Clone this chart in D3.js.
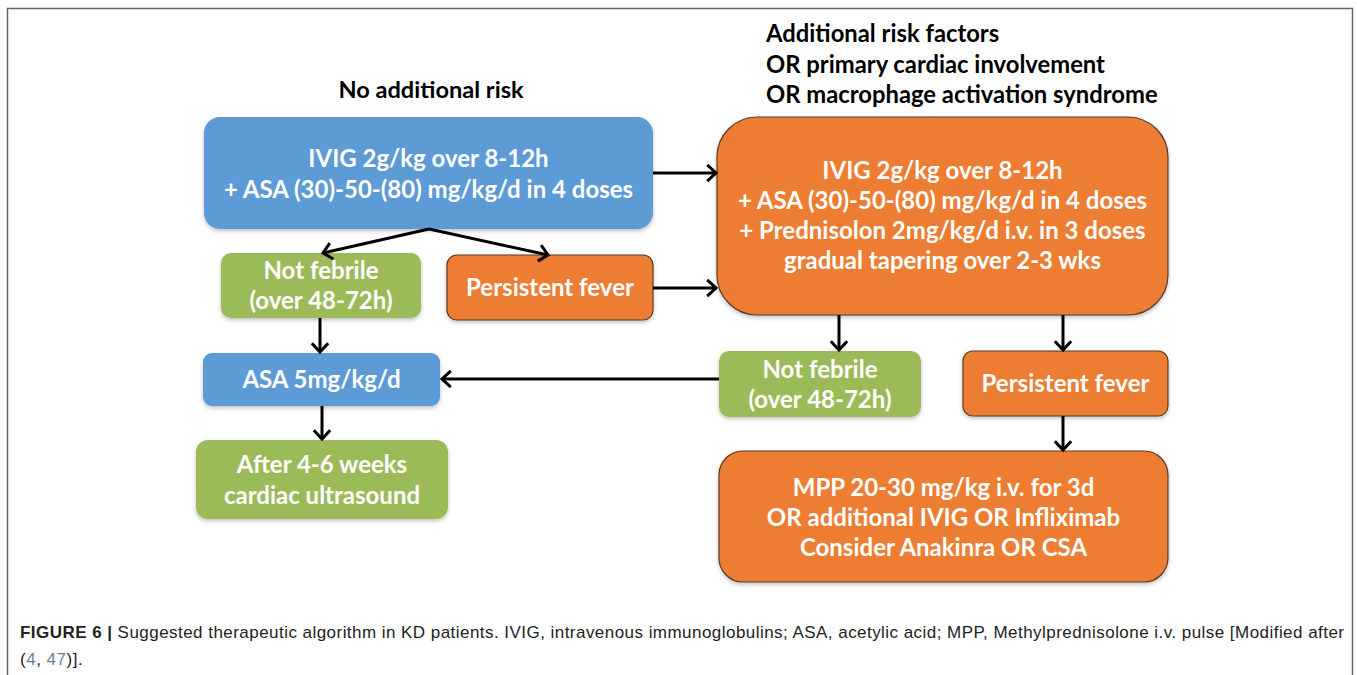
<!DOCTYPE html>
<html>
<head>
<meta charset="utf-8">
<script src="https://cdn.jsdelivr.net/npm/d3@7"></script>
<style>
  body { margin: 0; background: #fff; }
  svg { display: block; }
</style>
</head>
<body>
<div id="chart"></div>
<script>
// flowchart content
var nodeIds = ["ivig1", "notFeb1", "fever1", "ivig2", "asa5", "after", "notFeb2", "fever2", "mpp"];
var nodeKinds = ["blue", "green", "orange", "orange", "blue", "green", "green", "orange", "orange"];
var nodeLines = [
    ["IVIG 2g/kg over 8-12h", "+ ASA (30)-50-(80) mg/kg/d in 4 doses"],
    ["Not febrile", "(over 48-72h)"],
    ["Persistent fever"],
    ["IVIG 2g/kg over 8-12h", "+ ASA (30)-50-(80) mg/kg/d in 4 doses", "+ Prednisolon 2mg/kg/d i.v. in 3 doses", "gradual tapering over 2-3 wks"],
    ["ASA 5mg/kg/d"],
    ["After 4-6 weeks", "cardiac ultrasound"],
    ["Not febrile", "(over 48-72h)"],
    ["Persistent fever"],
    ["MPP 20-30 mg/kg i.v. for 3d", "OR additional IVIG OR Infliximab", "Consider Anakinra OR CSA"]
];
var edgeFrom = ["ivig1", "ivig1", "ivig1", "fever1", "notFeb1", "asa5", "ivig2", "ivig2", "fever2", "notFeb2"];
var edgeTo   = ["notFeb1", "fever1", "ivig2", "ivig2", "asa5", "after", "notFeb2", "fever2", "mpp", "asa5"];
var leftTitle = ["No additional risk"];
var rightTitle = ["Additional risk factors", "OR primary cardiac involvement", "OR macrophage activation syndrome"];
var captionBold = "FIGURE 6 |";
var captionLine1 = " Suggested therapeutic algorithm in KD patients. IVIG, intravenous immunoglobulins; ASA, acetylic acid; MPP, Methylprednisolone i.v. pulse [Modified after";
var captionRefs = ["4", "47"];

function draw() {
    var w = 1357;
    var h = 675;

    var svg = d3.select("#chart")
        .append("svg")
        .attr("width", w)
        .attr("height", h);

    var defs = svg.append("defs");
    defs.append("filter")
        .attr("id", "shadow")
        .attr("x", "-10%").attr("y", "-10%")
        .attr("width", "120%").attr("height", "130%")
        .append("feDropShadow")
        .attr("dx", 0).attr("dy", 2)
        .attr("stdDeviation", 2)
        .attr("flood-color", "#000")
        .attr("flood-opacity", 0.25);

    // frame around the figure
    svg.append("path")
        .attr("d", "M7.5,680 L7.5,8.5 L1352.5,8.5 L1352.5,680")
        .attr("fill", "none")
        .attr("stroke", "#666")
        .attr("stroke-width", 1.5);

    var fillColor = d3.scaleOrdinal()
        .domain(["blue", "green", "orange"])
        .range(["#5b9bd5", "#9bbb59", "#ed7d31"]);
    var strokeColor = d3.scaleOrdinal()
        .domain(["blue", "green", "orange"])
        .range(["none", "none", "#5a3a22"]);

    // box geometry (layout only)
    var layout = {
        ivig1:   {x: 204, y: 117, w: 449, h: 112, r: 16, base: 167, gap: 31},
        notFeb1: {x: 221, y: 253, w: 200, h: 65, r: 10, base: 279, gap: 30},
        fever1:  {x: 447, y: 255, w: 206, h: 65, r: 10, base: 296, gap: 30},
        ivig2:   {x: 717, y: 117, w: 451, h: 198, r: 40, base: 179, gap: 30},
        asa5:    {x: 203, y: 353, w: 237, h: 53, r: 9, base: 388, gap: 30},
        after:   {x: 196, y: 440, w: 252, h: 79, r: 12, base: 473, gap: 31},
        notFeb2: {x: 719, y: 351, w: 202, h: 66, r: 10, base: 378, gap: 30},
        fever2:  {x: 963, y: 351, w: 205, h: 65, r: 10, base: 392, gap: 30},
        mpp:     {x: 719, y: 451, w: 449, h: 131, r: 24, base: 496, gap: 30}
    };

    var nodes = nodeIds.map(function(id, i) {
        return {id: id, kind: nodeKinds[i], lines: nodeLines[i], box: layout[id]};
    });

    var g = svg.selectAll("g.node")
        .data(nodes)
        .enter()
        .append("g")
        .attr("class", "node");

    g.append("rect")
        .attr("x", function(d) { return d.box.x; })
        .attr("y", function(d) { return d.box.y; })
        .attr("width", function(d) { return d.box.w; })
        .attr("height", function(d) { return d.box.h; })
        .attr("rx", function(d) { return d.box.r; })
        .attr("fill", function(d) { return fillColor(d.kind); })
        .attr("stroke", function(d) { return strokeColor(d.kind); })
        .attr("stroke-width", 1.2)
        .attr("filter", "url(#shadow)");

    g.each(function(d) {
        var sel = d3.select(this);
        d.lines.forEach(function(t, k) {
            sel.append("text")
                .attr("x", d.box.x + d.box.w / 2)
                .attr("y", d.box.base + k * d.box.gap)
                .attr("text-anchor", "middle")
                .attr("font-family", "Lato, 'Open Sans', sans-serif")
                .attr("font-weight", "bold")
                .attr("font-size", "24px")
                .attr("fill", "#fff")
                .text(t);
        });
    });

    // arrow anchor points (layout only)
    var anchors = {
        "ivig1>notFeb1": [[429, 229], [323, 253]],
        "ivig1>fever1":  [[429, 229], [548, 255]],
        "ivig1>ivig2":   [[653, 173], [716, 173]],
        "fever1>ivig2":  [[653, 288], [716, 288]],
        "notFeb1>asa5":  [[320, 318], [320, 352]],
        "asa5>after":    [[322, 406], [322, 439]],
        "ivig2>notFeb2": [[839, 315], [839, 350]],
        "ivig2>fever2":  [[1063, 315], [1063, 350]],
        "fever2>mpp":    [[1063, 416], [1063, 450]],
        "notFeb2>asa5":  [[719, 379], [442, 379]]
    };

    var edges = edgeFrom.map(function(f, i) {
        return anchors[f + ">" + edgeTo[i]];
    });

    var line = d3.line();
    var arrows = svg.selectAll("g.arrow")
        .data(edges)
        .enter()
        .append("g")
        .attr("class", "arrow");

    arrows.append("path")
        .attr("d", function(d) { return line(d); })
        .attr("stroke", "#000")
        .attr("stroke-width", 3)
        .attr("fill", "none");

    // open chevron heads
    arrows.append("path")
        .attr("d", function(d) {
            var p0 = d[0], p1 = d[1];
            var a = Math.atan2(p1[1] - p0[1], p1[0] - p0[0]);
            var len = 12, spread = Math.PI / 4.2;
            var l = [p1[0] - len * Math.cos(a - spread), p1[1] - len * Math.sin(a - spread)];
            var r = [p1[0] - len * Math.cos(a + spread), p1[1] - len * Math.sin(a + spread)];
            return line([l, p1, r]);
        })
        .attr("stroke", "#000")
        .attr("stroke-width", 3)
        .attr("stroke-linejoin", "miter")
        .attr("fill", "none");

    // headings
    svg.selectAll("text.ltitle")
        .data(leftTitle)
        .enter()
        .append("text")
        .attr("class", "ltitle")
        .attr("x", 431)
        .attr("y", 98)
        .attr("text-anchor", "middle")
        .attr("font-family", "Lato, 'Open Sans', sans-serif")
        .attr("font-weight", "bold")
        .attr("font-size", "23.6px")
        .attr("fill", "#000")
        .text(function(d) { return d; });

    svg.selectAll("text.rtitle")
        .data(rightTitle)
        .enter()
        .append("text")
        .attr("class", "rtitle")
        .attr("x", 766)
        .attr("y", function(d, i) { return 42 + i * 30.5; })
        .attr("font-family", "Lato, 'Open Sans', sans-serif")
        .attr("font-weight", "bold")
        .attr("font-size", "23.8px")
        .attr("fill", "#000")
        .text(function(d) { return d; });

    // caption
    var cap = svg.append("text")
        .attr("x", 20)
        .attr("y", 638)
        .attr("textLength", 1324)
        .attr("lengthAdjust", "spacing")
        .attr("font-family", "'Liberation Sans', Arial, sans-serif")
        .attr("font-size", "17px")
        .attr("fill", "#222");
    cap.append("tspan").attr("font-weight", "bold").text(captionBold);
    cap.append("tspan").text(captionLine1);

    var cap2 = svg.append("text")
        .attr("x", 20)
        .attr("y", 665)
        .attr("font-family", "'Liberation Sans', Arial, sans-serif")
        .attr("font-size", "17px")
        .attr("letter-spacing", "0.5px")
        .attr("fill", "#222");
    cap2.append("tspan").text("(");
    cap2.append("tspan").attr("fill", "#6a7fa0").text(captionRefs[0]);
    cap2.append("tspan").text(", ");
    cap2.append("tspan").attr("fill", "#6a7fa0").text(captionRefs[1]);
    cap2.append("tspan").text(")].");
}

window.onload = draw;
</script>
</body>
</html>
